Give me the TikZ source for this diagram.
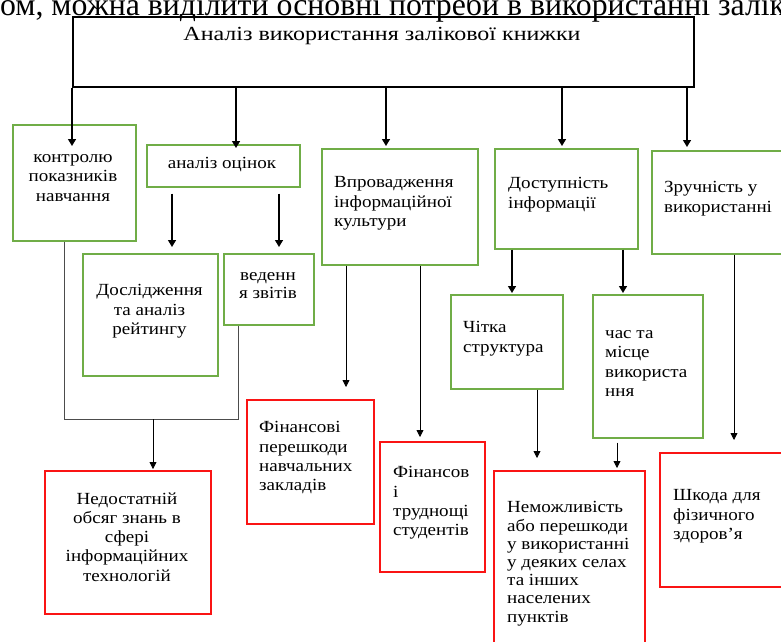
\documentclass[tikz,border=0pt]{standalone}
\usepackage{fontspec}
\setmainfont{Liberation Serif}
\newfontfamily\boxfont[FakeStretch=1.12]{Liberation Serif}
\newfontfamily\titlefont[FakeStretch=1.2]{Liberation Serif}
\usetikzlibrary{arrows.meta,calc}
\definecolor{boxgreen}{RGB}{112,173,71}
\definecolor{boxred}{RGB}{250,20,20}
\begin{document}
\begin{tikzpicture}[x=1pt, y=1pt,
		gbox/.style={draw=boxgreen, line width=1.6pt, anchor=north west, inner sep=0pt},
		rbox/.style={draw=boxred, line width=1.6pt, anchor=north west, inner sep=0pt},
		txt/.style={font=\boxfont\fontsize{17}{19.2}\selectfont, inner sep=0pt, execute at begin node=\strut},
		arr/.style={line width=1.4pt, -{Triangle[width=8pt,length=7pt]}},
		thinarr/.style={line width=0.8pt, -{Triangle[width=7pt,length=7pt]}},
		bracket/.style={line width=0.8pt, draw=black!70}]
		\useasboundingbox (0,0) rectangle (781,-641);
		\clip (0,0) rectangle (781,-641);
		% line of the page above the scheme
		\node[anchor=base west, inner sep=0pt, font=\fontsize{31.8}{32}\selectfont] (head) at (0,-15) {ом, можна виділити основні потреби в використанні залік};
		\node[draw, line width=1.8pt, anchor=north west, inner sep=0pt, minimum width=621pt, minimum height=70pt] (top) at (72,-16) {};
		\node[anchor=base, inner sep=0pt, font=\titlefont\fontsize{20}{22}\selectfont] (top-t) at (382,-40) {Аналіз використання залікової книжки};
		% green boxes
		\node[gbox, minimum width=123pt, minimum height=116pt] (ctrl) at (12,-124) {};
		\node[gbox, minimum width=153pt, minimum height=42pt] (ocin) at (146,-144) {};
		\node[gbox, minimum width=135pt, minimum height=122pt] (rate) at (82,-253) {};
		\node[gbox, minimum width=90pt, minimum height=71pt] (zvit) at (223,-253) {};
		\node[gbox, minimum width=156pt, minimum height=116pt] (vprov) at (321,-148) {};
		\node[gbox, minimum width=143pt, minimum height=100pt] (dost) at (494,-148) {};
		\node[gbox, minimum width=150pt, minimum height=103pt] (zruch) at (651,-150) {};
		\node[gbox, minimum width=112pt, minimum height=94pt] (chit) at (450,-294) {};
		\node[gbox, minimum width=110pt, minimum height=143pt] (chas) at (592,-294) {};
		% red boxes
		\node[rbox, minimum width=166pt, minimum height=143pt] (ned) at (44,-470) {};
		\node[rbox, minimum width=127pt, minimum height=124pt] (fin1) at (246,-399) {};
		\node[rbox, minimum width=105pt, minimum height=130pt] (fin2) at (379,-441) {};
		\node[rbox, minimum width=151pt, minimum height=190pt] (nemozh) at (493,-470) {};
		\node[rbox, minimum width=141pt, minimum height=134pt] (shkoda) at (659,-452) {};
		% texts
		\node[txt, align=center, anchor=north] (ctrl-t) at (73,-154.5) {контролю\\показників\\навчання};
		\node[txt, anchor=base] (ocin-t) at (222,-168) {аналіз оцінок};
		\node[txt, align=center, anchor=north] (rate-t) at (149.5,-284.5) {Дослідження\\та аналіз\\рейтингу};
		\node[txt, align=center, anchor=north] (zvit-t) at (268,-272.5) {веденн\\[-1pt]я звітів};
		\node[txt, align=left, anchor=north west] (vprov-t) at (334,-176.5) {Впровадження\\інформаційної\\культури};
		\node[txt, align=left, anchor=north west] (dost-t) at (508,-177.5) {Доступність\\інформації};
		\node[txt, align=left, anchor=north west] (zruch-t) at (664,-181.5) {Зручність у\\використанні};
		\node[txt, align=left, anchor=north west] (chit-t) at (463,-321.5) {Чітка\\структура};
		\node[txt, align=left, anchor=north west] (chas-t) at (605,-330.5) {час та\\місце\\використа\\ння};
		\node[txt, align=center, anchor=north] (ned-t) at (127,-492.5) {Недостатній\\обсяг знань в\\сфері\\інформаційних\\технологій};
		\node[txt, align=left, anchor=north west] (fin1-t) at (259,-421.5) {Фінансові\\перешкоди\\навчальних\\закладів};
		\node[txt, align=left, anchor=north west] (fin2-t) at (393,-466.5) {Фінансов\\і\\труднощі\\студентів};
		\node[txt, align=left, anchor=north west, font=\boxfont\fontsize{17}{18.2}\selectfont] (nemozh-t) at (507,-501.5) {Неможливість\\або перешкоди\\у використанні\\у деяких селах\\та інших\\населених\\пунктів};
		\node[txt, align=left, anchor=north west] (shkoda-t) at (673,-489.5) {Шкода для\\фізичного\\здоров’я};
		% arrow ends
		\coordinate (a1) at (72,-146);
		\coordinate (a2) at (236,-148);
		\coordinate (a3) at (386,-146);
		\coordinate (a4) at (562,-146);
		\coordinate (a5) at (687,-147);
		\coordinate (a6) at (172,-247);
		\coordinate (a7) at (279,-247);
		\coordinate (a8) at (512,-293);
		\coordinate (a9) at (623,-293);
		\coordinate (b1) at (346,-387);
		\coordinate (b2) at (420,-437);
		\coordinate (b3) at (537,-458);
		\coordinate (b4) at (617,-468);
		\coordinate (b5) at (734,-440);
		\coordinate (k1) at (64,-419);
		\coordinate (k2) at (238,-419);
		\coordinate (k3) at (153,-469);
		\foreach \e in {a1,a2,a3,a4,a5}
			\draw[arr] (top.south -| \e) -- (\e);
		\draw[arr] ($(ocin.south -| a6)+(0,-6)$) -- (a6);
		\draw[arr] ($(ocin.south -| a7)+(0,-6)$) -- (a7);
		\draw[arr] (dost.south -| a8) -- (a8);
		\draw[arr] (dost.south -| a9) -- (a9);
		\draw[thinarr] (vprov.south -| b1) -- (b1);
		\draw[thinarr] (vprov.south -| b2) -- (b2);
		\draw[thinarr] (chit.south -| b3) -- (b3);
		\draw[thinarr] ($(chas.south -| b4)+(0,-4)$) -- (b4);
		\draw[thinarr] (zruch.south -| b5) -- (b5);
		\draw[bracket] (ctrl.south -| k1) -- (k1) -- (k2) -- (zvit.south -| k2);
		\draw[thinarr] (k3 |- k1) -- (k3);
	\end{tikzpicture}
\end{document}
